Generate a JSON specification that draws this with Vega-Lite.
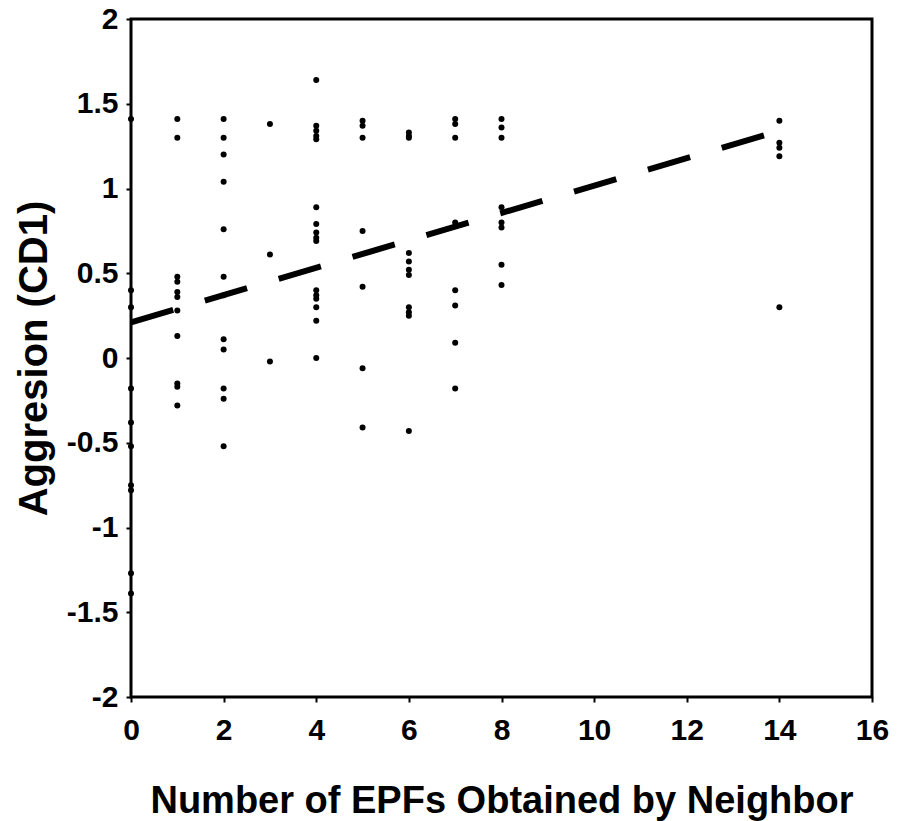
{
  "$schema": "https://vega.github.io/schema/vega-lite/v6.json",
  "width": 741,
  "height": 678,
  "autosize": {"type": "none"},
  "padding": {"left": 131, "top": 19, "right": 31, "bottom": 124},
  "background": "white",
  "config": {
    "view": {"stroke": "black", "strokeWidth": 3},
    "font": "Liberation Sans",
    "axis": {
      "grid": false,
      "domain": false,
      "tickColor": "black",
      "tickWidth": 2,
      "tickSize": 5,
      "labelFont": "Liberation Sans",
      "labelFontWeight": "bold",
      "labelFontSize": 30,
      "labelColor": "black",
      "titleFont": "Liberation Sans",
      "titleFontWeight": "bold",
      "titleFontSize": 38,
      "titleColor": "black"
    }
  },
  "datasets": {
    "pts": [
      {"epf": 0, "cd1": 1.41}, {"epf": 0, "cd1": 0.40}, {"epf": 0, "cd1": 0.30}, {"epf": 0, "cd1": -0.18},
      {"epf": 0, "cd1": -0.38}, {"epf": 0, "cd1": -0.52}, {"epf": 0, "cd1": -0.75}, {"epf": 0, "cd1": -0.78},
      {"epf": 0, "cd1": -1.27}, {"epf": 0, "cd1": -1.39},
      {"epf": 1, "cd1": 1.41}, {"epf": 1, "cd1": 1.30}, {"epf": 1, "cd1": 0.48}, {"epf": 1, "cd1": 0.45},
      {"epf": 1, "cd1": 0.39}, {"epf": 1, "cd1": 0.36}, {"epf": 1, "cd1": 0.28}, {"epf": 1, "cd1": 0.13},
      {"epf": 1, "cd1": -0.15}, {"epf": 1, "cd1": -0.17}, {"epf": 1, "cd1": -0.28},
      {"epf": 2, "cd1": 1.41}, {"epf": 2, "cd1": 1.30}, {"epf": 2, "cd1": 1.20}, {"epf": 2, "cd1": 1.04},
      {"epf": 2, "cd1": 0.76}, {"epf": 2, "cd1": 0.48}, {"epf": 2, "cd1": 0.37}, {"epf": 2, "cd1": 0.11},
      {"epf": 2, "cd1": 0.05}, {"epf": 2, "cd1": -0.18}, {"epf": 2, "cd1": -0.24}, {"epf": 2, "cd1": -0.52},
      {"epf": 3, "cd1": 1.38}, {"epf": 3, "cd1": 0.61}, {"epf": 3, "cd1": -0.02},
      {"epf": 4, "cd1": 1.64}, {"epf": 4, "cd1": 1.37}, {"epf": 4, "cd1": 1.34}, {"epf": 4, "cd1": 1.31},
      {"epf": 4, "cd1": 1.29}, {"epf": 4, "cd1": 0.89}, {"epf": 4, "cd1": 0.79}, {"epf": 4, "cd1": 0.74},
      {"epf": 4, "cd1": 0.71}, {"epf": 4, "cd1": 0.69}, {"epf": 4, "cd1": 0.40}, {"epf": 4, "cd1": 0.37},
      {"epf": 4, "cd1": 0.35}, {"epf": 4, "cd1": 0.30}, {"epf": 4, "cd1": 0.22}, {"epf": 4, "cd1": 0.0},
      {"epf": 5, "cd1": 1.40}, {"epf": 5, "cd1": 1.37}, {"epf": 5, "cd1": 1.30}, {"epf": 5, "cd1": 0.75},
      {"epf": 5, "cd1": 0.42}, {"epf": 5, "cd1": -0.06}, {"epf": 5, "cd1": -0.41},
      {"epf": 6, "cd1": 1.33}, {"epf": 6, "cd1": 1.31}, {"epf": 6, "cd1": 1.30}, {"epf": 6, "cd1": 0.62},
      {"epf": 6, "cd1": 0.57}, {"epf": 6, "cd1": 0.52}, {"epf": 6, "cd1": 0.49}, {"epf": 6, "cd1": 0.30},
      {"epf": 6, "cd1": 0.27}, {"epf": 6, "cd1": 0.25}, {"epf": 6, "cd1": -0.43},
      {"epf": 7, "cd1": 1.41}, {"epf": 7, "cd1": 1.38}, {"epf": 7, "cd1": 1.30}, {"epf": 7, "cd1": 0.80},
      {"epf": 7, "cd1": 0.40}, {"epf": 7, "cd1": 0.31}, {"epf": 7, "cd1": 0.09}, {"epf": 7, "cd1": -0.18},
      {"epf": 8, "cd1": 1.41}, {"epf": 8, "cd1": 1.36}, {"epf": 8, "cd1": 1.30}, {"epf": 8, "cd1": 0.89},
      {"epf": 8, "cd1": 0.80}, {"epf": 8, "cd1": 0.77}, {"epf": 8, "cd1": 0.55}, {"epf": 8, "cd1": 0.43},
      {"epf": 14, "cd1": 1.40}, {"epf": 14, "cd1": 1.27}, {"epf": 14, "cd1": 1.24}, {"epf": 14, "cd1": 1.19},
      {"epf": 14, "cd1": 0.30}
    ],
    "trend": [
      {"epf": 0, "cd1": 0.21},
      {"epf": 14, "cd1": 1.34}
    ]
  },
  "encoding": {
    "x": {
      "field": "epf", "type": "quantitative",
      "scale": {"domain": [0, 16], "nice": false, "zero": false},
      "axis": {
        "title": "Number of EPFs Obtained by Neighbor",
        "values": [0, 2, 4, 6, 8, 10, 12, 14, 16],
        "labelPadding": 13,
        "labelFlush": false,
        "labelOverlap": false,
        "titleY": 115,
        "titleBaseline": "alphabetic"
      }
    },
    "y": {
      "field": "cd1", "type": "quantitative",
      "scale": {"domain": [-2, 2], "nice": false, "zero": false},
      "axis": {
        "title": "Aggresion (CD1)",
        "values": [-2, -1.5, -1, -0.5, 0, 0.5, 1, 1.5, 2],
        "labelExpr": "toString(datum.value)",
        "labelPadding": 8,
        "labelFlush": false,
        "labelOverlap": false,
        "titleFontSize": 40,
        "titleX": -85,
        "titleBaseline": "alphabetic"
      }
    }
  },
  "layer": [
    {
      "mark": {"type": "rule", "color": "black", "strokeWidth": 2},
      "encoding": {"y": {"datum": 0}, "x": {"datum": 0}, "x2": {"datum": 16}}
    },
    {
      "data": {"name": "pts"},
      "mark": {"type": "circle", "size": 36, "color": "black", "opacity": 1}
    },
    {
      "data": {"name": "trend"},
      "mark": {"type": "line", "color": "black", "strokeWidth": 6, "strokeDash": [44, 33], "strokeCap": "butt"}
    }
  ]
}
